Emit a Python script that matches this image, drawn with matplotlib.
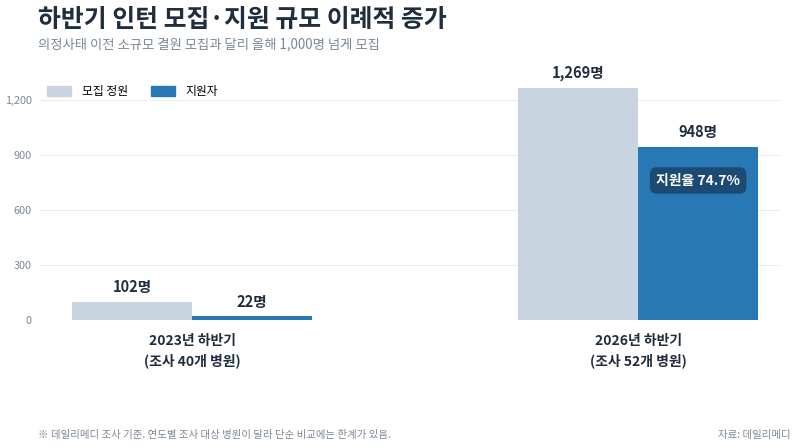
import matplotlib.pyplot as plt
from matplotlib.patches import Patch
import numpy as np

plt.rcParams['font.family'] = ['Noto Sans CJK KR', 'DejaVu Sans']

# data
groups = ['2023년 하반기\n(조사 40개 병원)', '2026년 하반기\n(조사 52개 병원)']
recruit = [102, 1269]
applicants = [22, 948]
rate_label = '지원율 74.7%'
yticks = [0, 300, 600, 900, 1200]

gray_c = '#c8d4df'
blue_c = '#2878b5'
dark = '#1f2d3d'
muted = '#7a8896'

fig = plt.figure(figsize=(8, 4.48), dpi=100)
ax = fig.add_axes([0.05, 0.285, 0.925, 0.58])

x = np.arange(len(groups))
w = 0.269
b1 = ax.bar(x - w / 2, recruit, w, color=gray_c, label='모집 정원')
b2 = ax.bar(x + w / 2, applicants, w, color=blue_c, label='지원자')

for rect, v in zip(b1, recruit):
    ax.text(rect.get_x() + rect.get_width() / 2, v + 35, f'{v:,}명',
            ha='center', va='bottom', fontsize=10.5, fontweight='bold', color=dark)
for rect, v in zip(b2, applicants):
    ax.text(rect.get_x() + rect.get_width() / 2, v + 35, f'{v:,}명',
            ha='center', va='bottom', fontsize=10.5, fontweight='bold', color=dark)

# rate badge inside 2026 applicants bar
ax.text(x[1] + w / 2, applicants[1] - 185, rate_label, ha='center', va='center',
        fontsize=10, fontweight='bold', color='white',
        bbox=dict(boxstyle='round,pad=0.45,rounding_size=0.5', fc='#1b4a73', ec='none'))

ax.set_xlim(-0.341, 1.318)
ax.set_ylim(0, 1418)
ax.set_yticks(yticks)
ax.set_yticklabels([f'{t:,}' for t in yticks], fontsize=7.8, color=muted)
ax.set_xticks(x)
ax.set_xticklabels(groups, fontsize=10, fontweight='bold', color=dark, linespacing=1.4)
ax.tick_params(axis='both', length=0)
ax.tick_params(axis='x', pad=10)
ax.tick_params(axis='y', pad=6)
ax.grid(axis='y', color='#e8edf2', linewidth=0.8)
ax.set_axisbelow(True)
for s in ax.spines.values():
    s.set_visible(False)

handles = [Patch(color=gray_c, label='모집 정원'), Patch(color=blue_c, label='지원자')]
fig.legend(handles=handles, loc='center left', bbox_to_anchor=(0.046, 0.795),
           ncol=2, frameon=False, fontsize=8.5, handlelength=2.0, handleheight=0.9,
           columnspacing=2.0, handletextpad=0.9)

fig.text(0.048, 0.955, '하반기 인턴 모집·지원 규모 이례적 증가', fontsize=17.9,
         fontweight='bold', color=dark, va='center')
fig.text(0.048, 0.902, '의정사태 이전 소규모 결원 모집과 달리 올해 1,000명 넘게 모집',
         fontsize=9.6, color=muted, va='center')
fig.text(0.048, 0.028, '※ 데일리메디 조사 기준. 연도별 조사 대상 병원이 달라 단순 비교에는 한계가 있음.',
         fontsize=7.5, color=muted, va='center')
fig.text(0.988, 0.028, '자료: 데일리메디', fontsize=7.5, color=muted, va='center', ha='right')

fig.savefig('out.png', dpi=100, facecolor='white')
